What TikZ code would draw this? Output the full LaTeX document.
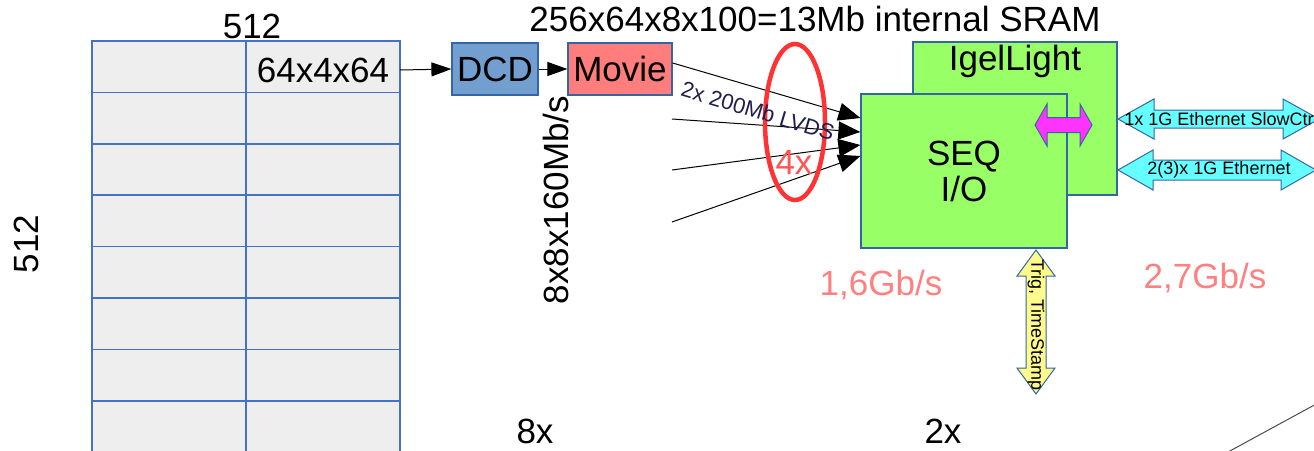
\documentclass[tikz,border=0pt]{standalone}
\usepackage{fontspec}
\setmainfont{Liberation Sans}
\usetikzlibrary{arrows.meta}

\definecolor{gridblue}{RGB}{68,114,196}
\definecolor{boxblue}{RGB}{52,101,164}
\definecolor{cellgray}{RGB}{238,238,238}
\definecolor{dcdblue}{RGB}{114,159,207}
\definecolor{moviered}{RGB}{255,125,125}
\definecolor{seqgreen}{RGB}{153,255,102}
\definecolor{ringred}{RGB}{255,51,51}
\definecolor{ratepink}{RGB}{255,128,128}
\definecolor{fourxred}{RGB}{255,85,85}
\definecolor{lvdsnavy}{RGB}{30,30,80}
\definecolor{ethcyan}{RGB}{102,255,255}
\definecolor{linkmagenta}{RGB}{255,51,255}
\definecolor{trigyellow}{RGB}{255,250,140}

\begin{document}
\begin{tikzpicture}[x=1pt, y=-1pt,
    cellbox/.style={draw=gridblue, fill=cellgray, line width=1.5pt},
    unit/.style={draw=boxblue, line width=1.2pt, inner sep=0pt},
    lbl/.style={font=\fontsize{35}{36}\selectfont, inner sep=0pt},
    lblsmall/.style={font=\fontsize{18}{19}\selectfont, inner sep=0pt},
    link/.style={-{Triangle[length=20pt,width=14pt]}, line width=1pt},
    fan/.style={-{Triangle[length=22pt,width=18pt]}, line width=1pt},
    fatarrow/.style={draw=boxblue, line width=1pt}]

    \useasboundingbox (0,0) rectangle (1314,450);
    \clip (0,0) rectangle (1314,450);

    % Memory grid (rows run on below the page)
    \foreach \r in {0,...,7}
        \foreach \c in {0,1}
            \draw[cellbox] ({92+154*\c}, {41+51.4*\r}) rectangle ++(154,51.4);
    \node[lbl, anchor=base] (top512) at (252,38) {512};
    \node[lbl, rotate=90] (side512) at (26,244) {512};
    \node[lbl, anchor=base] (blk) at (323,82) {64x4x64};
    \coordinate (cellE) at (400,70);

    % Readout chain
    \node[unit, lbl, fill=dcdblue, minimum width=86, minimum height=52] (dcd) at (495,69) {DCD};
    \node[unit, lbl, fill=moviered, minimum width=104, minimum height=52] (movie) at (620,69) {Movie};
    \draw[link] (cellE) -- (dcd.west);
    \draw[link] (dcd) -- (movie);
    \node[lbl, anchor=base] (sram) at (815,31) {256x64x8x100=13Mb internal SRAM};
    \node[lbl, rotate=90] (rate8) at (556,200) {8x8x160Mb/s};

    % Boards
    \node[unit, fill=seqgreen, minimum width=204, minimum height=153] (igel) at (1015,118.5) {};
    \node[lbl, anchor=base] (igeltxt) at (1015,70) {IgelLight};
    \node[unit, lbl, fill=seqgreen, minimum width=206, minimum height=154, align=center] (seq) at (964,171) {SEQ\\I/O};

    % LVDS links into SEQ
    \coordinate (l2) at (672,119);
    \coordinate (l3) at (672,170);
    \coordinate (l4) at (672,222);
    \draw[fan] ([yshift=6pt]movie.east) -- ([yshift=53pt]seq.west);
    \draw[fan] (l2) -- ([yshift=39pt]seq.west);
    \draw[fan] (l3) -- ([yshift=26pt]seq.west);
    \draw[fan] (l4) -- ([yshift=15pt]seq.west);
    \draw[ringred, line width=4.5pt] (795,122) ellipse [x radius=30pt, y radius=78pt];
    \node[lbl, text=fourxred] (four) at (794,162) {4x};
    \node[font=\fontsize{22}{24}\selectfont, text=lvdsnavy, rotate=-16.6, inner sep=0pt] (lvds) at (758,111) {2x 200Mb LVDS};

    % Rates and counts
    \node[lbl, text=ratepink, anchor=base] (r16) at (881,295) {1,6Gb/s};
    \node[lbl, text=ratepink, anchor=base] (r27) at (1205,288) {2,7Gb/s};
    \node[lbl, anchor=base] (n8) at (535,443) {8x};
    \node[lbl, anchor=base] (n2) at (943,443) {2x};

    % Board-to-board link
    \fill[linkmagenta, fatarrow] (1035,125) -- (1047,104) -- (1047,117.5) -- (1080,117.5) -- (1080,104)
        -- (1092,125) -- (1080,146) -- (1080,132.5) -- (1047,132.5) -- (1047,146) -- cycle;

    % Ethernet links
    \fill[ethcyan, fatarrow] (1118,119) -- (1154,99) -- (1154,110) -- (1283,110) -- (1283,99)
        -- (1319,119) -- (1283,139) -- (1283,128) -- (1154,128) -- (1154,139) -- cycle;
    \node[lblsmall] (eth1) at (1221,119) {1x 1G Ethernet SlowCtrl};
    \fill[ethcyan, fatarrow] (1118,170) -- (1153,150) -- (1153,160) -- (1281,160) -- (1281,150)
        -- (1316,170) -- (1281,190) -- (1281,180) -- (1153,180) -- (1153,190) -- cycle;
    \node[lblsmall] (eth2) at (1219,170) {2(3)x 1G Ethernet};

    % Trigger link
    \fill[trigyellow, fatarrow] (1036,250) -- (1055,276) -- (1046,276) -- (1046,368) -- (1055,368)
        -- (1036,394) -- (1017,368) -- (1026,368) -- (1026,276) -- (1017,276) -- cycle;
    \node[lblsmall, rotate=-90] (trig) at (1036,325) {Trig, TimeStamp};

    \draw[line width=1pt, black!70] (1228,452) -- (1318,403);

\end{tikzpicture}
\end{document}
